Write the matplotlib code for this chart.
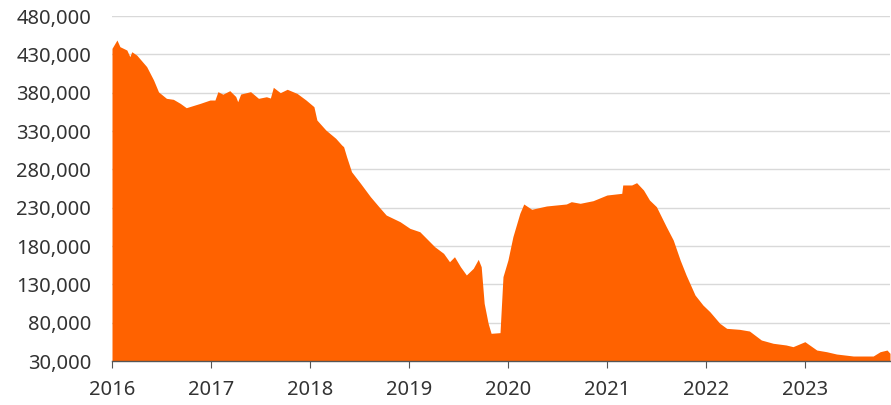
import matplotlib.pyplot as plt
from matplotlib.ticker import FuncFormatter

# approximate readings (decimal year, value)
years = [2016.00, 2016.05, 2016.08, 2016.15, 2016.18, 2016.20, 2016.25, 2016.35,
         2016.42, 2016.47, 2016.55, 2016.62, 2016.69, 2016.75, 2016.89, 2016.99,
         2017.04, 2017.07, 2017.12, 2017.19, 2017.25, 2017.27, 2017.30, 2017.40,
         2017.48, 2017.56, 2017.60, 2017.63, 2017.70, 2017.77, 2017.87, 2017.96,
         2018.04, 2018.07, 2018.16, 2018.26, 2018.32, 2018.34, 2018.37, 2018.42,
         2018.51, 2018.61, 2018.71, 2018.77, 2018.91, 2019.01, 2019.11, 2019.21,
         2019.26, 2019.35, 2019.41, 2019.46, 2019.52, 2019.58, 2019.65, 2019.70,
         2019.73, 2019.76, 2019.80, 2019.83, 2019.92, 2019.95, 2020.00, 2020.05,
         2020.12, 2020.16, 2020.24, 2020.39, 2020.59, 2020.64, 2020.73, 2020.86,
         2021.00, 2021.15, 2021.16, 2021.25, 2021.30, 2021.37, 2021.43, 2021.50,
         2021.60, 2021.67, 2021.74, 2021.80, 2021.89, 2021.97, 2022.04, 2022.14,
         2022.21, 2022.34, 2022.44, 2022.56, 2022.68, 2022.81, 2022.88, 2023.00,
         2023.12, 2023.22, 2023.32, 2023.49, 2023.69, 2023.76, 2023.83, 2023.86]
values = [437800, 448700, 440000, 435600, 427000, 433400, 429000, 414000,
          396500, 381000, 372600, 371300, 366000, 360400, 366000, 370400,
          370400, 381300, 378000, 382600, 375000, 368200, 378200, 381300,
          372600, 374700, 373000, 387000, 380000, 384400, 379000, 370400,
          361700, 344300, 331300, 320500, 311800, 309500, 296500, 276900,
          261800, 244400, 229200, 220400, 211700, 203000, 198600, 185600,
          179100, 170400, 159500, 166000, 153000, 142200, 150900, 162600,
          153000, 105300, 79200, 66100, 67000, 140000, 161700, 192100,
          222600, 234800, 227900, 232200, 234800, 237800, 235700, 239100,
          246500, 248700, 259600, 259600, 262600, 253000, 240000, 231300,
          205200, 187800, 161700, 142200, 116100, 103000, 94300, 79200,
          72600, 71300, 69100, 57400, 53100, 50900, 48700, 55200,
          44300, 42100, 39100, 36500, 36500, 42100, 44300, 40000]

y_ticks = list(range(30000, 480001, 50000))
x_ticks = list(range(2016, 2024))

fig = plt.figure(figsize=(8.91, 4.05), dpi=100)
ax = fig.add_axes([112/891, 1 - 361/405, 778/891, 345/405])

ax.fill_between(years, 30000, values, color='#ff6200', linewidth=0)

ax.set_ylim(30000, 480000)
ax.set_xlim(2016, 2023.86)
ax.set_yticks(y_ticks)
ax.set_xticks(x_ticks)
ax.yaxis.set_major_formatter(FuncFormatter(lambda v, p: f'{int(v):,}'))
ax.xaxis.set_major_formatter(FuncFormatter(lambda v, p: f'{int(v)}'))

for t in y_ticks[1:]:
    ax.axhline(t, color='#d9d9d9', linewidth=1, zorder=0)

for s in ['top', 'right', 'left']:
    ax.spines[s].set_visible(False)
ax.spines['bottom'].set_color('#555555')
ax.spines['bottom'].set_linewidth(1)
ax.tick_params(axis='y', length=0, pad=15, labelsize=14.5, labelcolor='#333333')
ax.tick_params(axis='x', length=5, color='#555555', pad=9, labelsize=14.5, labelcolor='#333333')
for lbl in ax.get_xticklabels() + ax.get_yticklabels():
    lbl.set_family('Noto Sans')

fig.savefig('out.png', dpi=100)
